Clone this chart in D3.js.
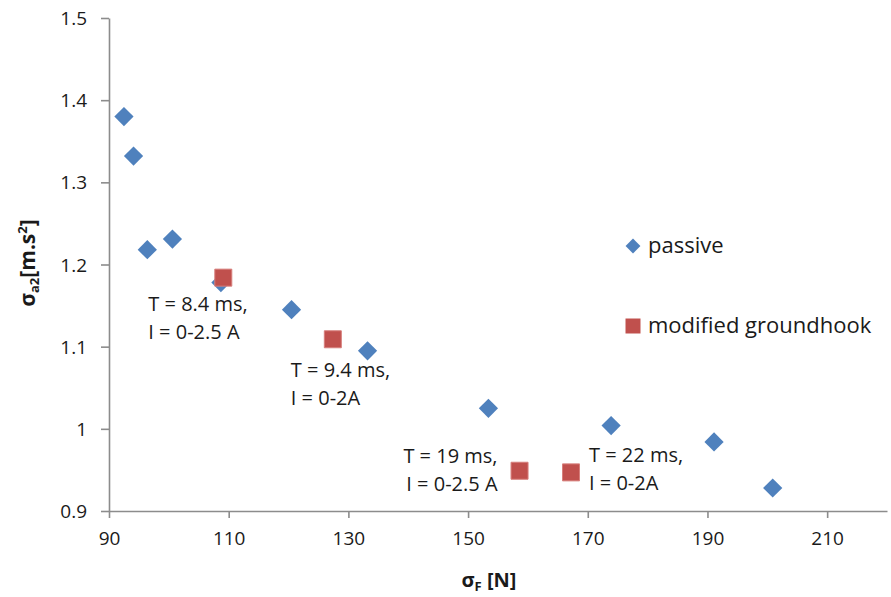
<!DOCTYPE html>
<html>
<head>
<meta charset="utf-8">
<script src="https://cdn.jsdelivr.net/npm/d3@7"></script>
<style>
  html, body { margin: 0; padding: 0; background: #fff; }
  svg { display: block; font-family: "Open Sans", Lato, sans-serif; }
  .axis path, .axis line { stroke: #8c8c8c; stroke-width: 1.6; }
  .axis text { font-size: 19px; fill: #1a1a1a; font-family: "Open Sans", sans-serif; }
</style>
</head>
<body>
<svg id="chart" width="891" height="597"></svg>
<script>
// Passive suspension: force deviation σF [N] vs. acceleration deviation σa2
const passiveForce = [92.5, 94.1, 96.4, 100.6, 108.7, 120.5, 133.2, 153.4, 173.9, 191.1, 200.9];
const passiveAccel = [1.380, 1.332, 1.218, 1.231, 1.178, 1.145, 1.095, 1.025, 1.004, 0.984, 0.928];

// Modified groundhook control runs
const groundhookForce = [109.1, 127.4, 158.6, 167.2];
const groundhookAccel = [1.184, 1.109, 0.949, 0.947];
const groundhookLabels = [
  ["T = 8.4 ms,", "I = 0-2.5 A"],
  ["T = 9.4 ms,", "I = 0-2A"],
  ["T = 19 ms,", "I = 0-2.5 A"],
  ["T = 22 ms,", "I = 0-2A"]
];

const xTicks = [90, 110, 130, 150, 170, 190, 210];
const yTicks = [0.9, 1, 1.1, 1.2, 1.3, 1.4, 1.5];
const seriesNames = ["passive", "modified groundhook"];

// label placement relative to each square marker (text-anchor, dx, dy of first baseline)
const labelLayout = [
  { anchor: "start", dx: -75, dy: 33 },
  { anchor: "start", dx: -42, dy: 38 },
  { anchor: "end",   dx: -22, dy: -8 },
  { anchor: "start", dx: 18,  dy: -10 }
];

const blue = "#4f81bd";
const red = "#c0504d";

const svg = d3.select("#chart");
const x = d3.scaleLinear().domain([90, 220]).range([109, 887]);
const y = d3.scaleLinear().domain([0.9, 1.5]).range([511, 18]);

// axes
svg.append("g")
  .attr("class", "axis")
  .attr("transform", `translate(0,${y(0.9)})`)
  .call(d3.axisBottom(x).tickValues(xTicks).tickSize(7).tickSizeOuter(0).tickPadding(14).tickFormat(d3.format("d")))
  .call(g => g.selectAll("text").attr("dy", "0.71em"));

svg.append("g")
  .attr("class", "axis")
  .attr("transform", `translate(${x(90)},0)`)
  .call(d3.axisLeft(y).tickValues(yTicks).tickSize(8).tickSizeOuter(0).tickPadding(14).tickFormat(d => d3.format("")(+d.toFixed(1))))
  .call(g => g.selectAll("text").attr("dy", "0.35em"));

// axis titles
const xTitle = svg.append("text")
  .attr("x", 489).attr("y", 587)
  .attr("text-anchor", "middle")
  .style("font-size", "20px").style("font-weight", "bold").style("fill", "#1a1a1a");
xTitle.append("tspan").text("σ");
xTitle.append("tspan").text("F").attr("dy", 4).style("font-size", "13px");
xTitle.append("tspan").text("\u00a0[N]").attr("dy", -4);

const yTitle = svg.append("text")
  .attr("transform", "translate(35,263) rotate(-90)")
  .attr("text-anchor", "middle")
  .style("font-size", "21px").style("font-weight", "bold").style("fill", "#1a1a1a");
yTitle.append("tspan").text("σ");
yTitle.append("tspan").text("a2").attr("dy", 4).style("font-size", "13px");
yTitle.append("tspan").text("[m.s").attr("dy", -4);
yTitle.append("tspan").text("2").attr("dy", -8).style("font-size", "13px");
yTitle.append("tspan").text("]").attr("dy", 8);

const diamond = d3.symbol().type(d3.symbolSquare).size(185);
const square = d3.symbol().type(d3.symbolSquare).size(289);

const passive = passiveForce.map((f, i) => ({ f, a: passiveAccel[i] }));
const groundhook = groundhookForce.map((f, i) => ({ f, a: groundhookAccel[i], label: groundhookLabels[i], layout: labelLayout[i] }));

svg.append("g").selectAll("path")
  .data(passive)
  .join("path")
  .attr("d", diamond)
  .attr("transform", d => `translate(${x(d.f)},${y(d.a)}) rotate(45)`)
  .attr("fill", blue);

svg.append("g").selectAll("path")
  .data(groundhook)
  .join("path")
  .attr("d", square)
  .attr("transform", d => `translate(${x(d.f)},${y(d.a)})`)
  .attr("fill", red)
  .attr("stroke", "#d77f7c")
  .attr("stroke-width", 1);

// point annotations
const labels = svg.append("g").selectAll("text")
  .data(groundhook)
  .join("text")
  .attr("x", d => x(d.f) + d.layout.dx)
  .attr("y", d => y(d.a) + d.layout.dy)
  .attr("text-anchor", d => d.layout.anchor)
  .style("font-size", "20px").style("fill", "#1a1a1a");
labels.each(function(d) {
  const t = d3.select(this);
  d.label.forEach((line, i) => {
    t.append("tspan")
      .attr("x", x(d.f) + d.layout.dx)
      .attr("dy", i === 0 ? 0 : 28)
      .text(line);
  });
});

// legend
const legend = svg.append("g").attr("transform", "translate(633,0)");
const legendRows = seriesNames.map((name, i) => ({ name, i }));
legend.selectAll("path")
  .data(legendRows)
  .join("path")
  .attr("d", d => d.i === 0 ? d3.symbol().type(d3.symbolSquare).size(110)() : d3.symbol().type(d3.symbolSquare).size(225)())
  .attr("transform", d => d.i === 0 ? "translate(0,246) rotate(45)" : "translate(0,326)")
  .attr("fill", d => d.i === 0 ? blue : red);
legend.selectAll("text")
  .data(legendRows)
  .join("text")
  .attr("x", 15)
  .attr("y", d => d.i === 0 ? 253 : 333)
  .style("font-size", "22px").style("fill", "#1a1a1a")
  .text(d => d.name);
</script>
</body>
</html>
